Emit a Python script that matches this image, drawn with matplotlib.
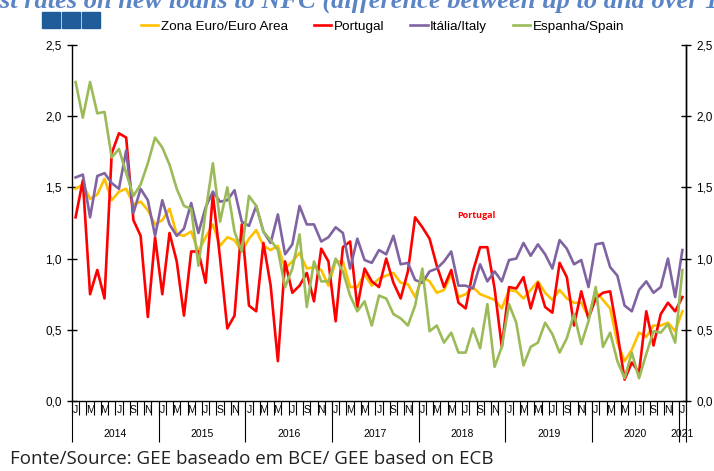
import numpy as np
import matplotlib.pyplot as plt
from matplotlib.patches import Rectangle
from matplotlib.ticker import FuncFormatter, FixedLocator

plt.rcParams['font.family'] = ['Liberation Sans', 'DejaVu Sans']

# monthly data, Jan 2014 .. Jan 2021
euro = [1.49, 1.52, 1.42, 1.45, 1.56, 1.41, 1.47, 1.49, 1.38, 1.40, 1.34, 1.24,
        1.27, 1.35, 1.17, 1.16, 1.19, 1.05, 1.15, 1.24, 1.09, 1.15,
        1.13, 1.05, 1.14, 1.20, 1.09, 1.06, 1.09, 0.93, 0.98, 1.04, 0.93, 0.94,
        0.92, 0.81, 0.98, 0.98, 0.80, 0.80, 0.89, 0.81, 0.86, 0.88,
        0.90, 0.83, 0.82, 0.73, 0.87, 0.84, 0.76, 0.78, 0.89, 0.73, 0.75, 0.80,
        0.75, 0.73, 0.71, 0.65, 0.78, 0.77, 0.72, 0.78, 0.84,
        0.76, 0.71, 0.78, 0.72, 0.69, 0.69, 0.59, 0.77, 0.71, 0.65, 0.41, 0.28,
        0.36, 0.48, 0.45, 0.53, 0.53, 0.55, 0.49, 0.63]
portugal = [1.29, 1.55, 0.75, 0.92, 0.72, 1.74, 1.88, 1.85, 1.27, 1.16, 0.59, 1.15,
            0.75, 1.18, 0.98, 0.60, 1.05, 1.05, 0.83, 1.45, 1.00, 0.51,
            0.60, 1.24, 0.67, 0.63, 1.11, 0.81, 0.28, 0.98, 0.76, 0.81, 0.90, 0.70,
            1.07, 0.98, 0.56, 1.08, 1.12, 0.66, 0.93, 0.84, 0.80, 1.00,
            0.83, 0.72, 0.91, 1.29, 1.22, 1.14, 0.95, 0.80, 0.92, 0.69, 0.65, 0.91,
            1.08, 1.08, 0.79, 0.38, 0.80, 0.79, 0.87, 0.65, 0.83,
            0.66, 0.62, 0.97, 0.87, 0.53, 0.77, 0.58, 0.72, 0.76, 0.77, 0.48, 0.15,
            0.27, 0.20, 0.63, 0.39, 0.61, 0.69, 0.63, 0.73]
italy = [1.57, 1.59, 1.29, 1.58, 1.60, 1.53, 1.49, 1.76, 1.32, 1.49, 1.41, 1.16,
         1.41, 1.24, 1.16, 1.21, 1.39, 1.18, 1.36, 1.47, 1.40, 1.41,
         1.48, 1.26, 1.23, 1.37, 1.19, 1.11, 1.31, 1.03, 1.10, 1.37, 1.24, 1.24,
         1.12, 1.15, 1.22, 1.18, 0.93, 1.14, 0.99, 0.97, 1.06, 1.03,
         1.16, 0.96, 0.97, 0.85, 0.83, 0.91, 0.93, 0.98, 1.05, 0.81, 0.81, 0.79,
         0.96, 0.84, 0.91, 0.84, 0.99, 1.00, 1.11, 1.02, 1.10,
         1.03, 0.93, 1.13, 1.07, 0.96, 0.99, 0.80, 1.10, 1.11, 0.94, 0.88, 0.67,
         0.63, 0.78, 0.84, 0.76, 0.80, 1.00, 0.73, 1.06]
spain = [2.24, 1.99, 2.24, 2.02, 2.03, 1.71, 1.77, 1.60, 1.44, 1.52, 1.67, 1.85,
         1.78, 1.66, 1.49, 1.37, 1.35, 0.95, 1.33, 1.67, 1.26, 1.50,
         1.19, 1.05, 1.44, 1.37, 1.19, 1.13, 1.06, 0.80, 0.93, 1.17, 0.66, 0.98,
         0.84, 0.84, 1.00, 0.91, 0.74, 0.63, 0.70, 0.53, 0.74, 0.72,
         0.61, 0.58, 0.53, 0.67, 0.93, 0.49, 0.53, 0.41, 0.48, 0.34, 0.34, 0.51,
         0.37, 0.68, 0.24, 0.38, 0.68, 0.55, 0.25, 0.38, 0.41,
         0.55, 0.47, 0.34, 0.44, 0.61, 0.40, 0.56, 0.80, 0.38, 0.48, 0.28, 0.16,
         0.34, 0.16, 0.33, 0.49, 0.48, 0.54, 0.41, 0.92]

years = ['2014', '2015', '2016', '2017', '2018', '2019', '2020', '2021']
month_letters = ['J', '', 'M', '', 'M', '', 'J', '', 'S', '', 'N', '']
labels = ['Zona Euro/Euro Area', 'Portugal', 'Itália/Italy', 'Espanha/Spain']
colors = ['#FFC000', '#FF0000', '#8064A2', '#9BBB59']

n = len(euro)
x = np.arange(n)

W, H = 714, 471
fig = plt.figure(figsize=(W / 100, H / 100), dpi=100)
ax = fig.add_axes([72 / W, 70 / H, 614 / W, 356 / H])

for series, lab, c in zip([euro, portugal, italy, spain], labels, colors):
    ax.plot(x, series, color=c, lw=1.9, label=lab)

ax.set_xlim(-0.5, n - 0.5)
ax.set_ylim(0, 2.5)
ax.spines['top'].set_visible(False)
for s in ['left', 'right', 'bottom']:
    ax.spines[s].set_linewidth(1.0)

fmt = FuncFormatter(lambda v, p: f'{v:.1f}'.replace('.', ','))
yt = np.arange(0, 2.51, 0.5)
ax.set_yticks(yt)
ax.yaxis.set_major_formatter(fmt)
ax.tick_params(axis='y', direction='inout', length=7, width=1, labelsize=8.5, pad=4)

ax2 = ax.twinx()
ax2.set_ylim(0, 2.5)
ax2.set_yticks(yt)
ax2.yaxis.set_major_formatter(fmt)
ax2.tick_params(axis='y', direction='inout', length=7, width=1, labelsize=8.5, pad=4)
for s in ['top', 'left', 'bottom']:
    ax2.spines[s].set_visible(False)
ax2.spines['right'].set_linewidth(1.0)

# month letters + short ticks between months
ax.xaxis.set_major_locator(FixedLocator(x))
ax.set_xticklabels([month_letters[i % 12] for i in x], fontsize=7.5)
ax.tick_params(axis='x', which='major', length=0, pad=3)
ax.xaxis.set_minor_locator(FixedLocator(np.arange(-0.5, n, 1.0)))
ax.tick_params(axis='x', which='minor', length=10, width=0.8, direction='out')

# years row
sec = ax.secondary_xaxis('bottom')
sec.spines['bottom'].set_visible(False)
bounds = list(np.arange(-0.5, n, 12.0)) + [n - 0.5]
sec.set_xticks(bounds)
sec.set_xticklabels([''] * len(bounds))
sec.tick_params(axis='x', which='major', length=29.5, width=0.8)
centers = [12 * k + 5.5 for k in range(7)] + [n - 1]
sec.set_xticks(centers, minor=True)
sec.set_xticklabels(years, minor=True, fontsize=7.5)
sec.tick_params(axis='x', which='minor', length=0, pad=20)

ax.text(0.659, 0.52, 'Portugal', transform=ax.transAxes, color='#FF0000',
        fontsize=6.5, fontweight='bold', family='Open Sans', ha='center', va='center')

fig.legend(loc='center', bbox_to_anchor=(0.536, 1 - 27 / H), ncol=4, frameon=False,
           fontsize=9.7, handlelength=1.3, handletextpad=0.2, columnspacing=1.9)

# cut-off title and the three squares
fig.text(-66 / W, 1 - 8 / H, 'Interest rates on new loans to NFC (difference between up to and over 1 million euros)',
         family='Liberation Serif', style='italic', fontweight='bold', fontsize=19,
         color='#5A84C4', ha='left', va='baseline')
for k in range(3):
    fig.patches.append(Rectangle(((42 + 20 * k) / W, 1 - 28 / H), 18 / W, 16 / H,
                                 transform=fig.transFigure, color='#1F5C99'))

fig.text(10 / W, 1 - 459 / H, 'Fonte/Source: GEE baseado em BCE/ GEE based on ECB',
         family='Open Sans', fontsize=13.5, color='#222222', ha='left', va='center')

fig.savefig('out.png', dpi=100)
